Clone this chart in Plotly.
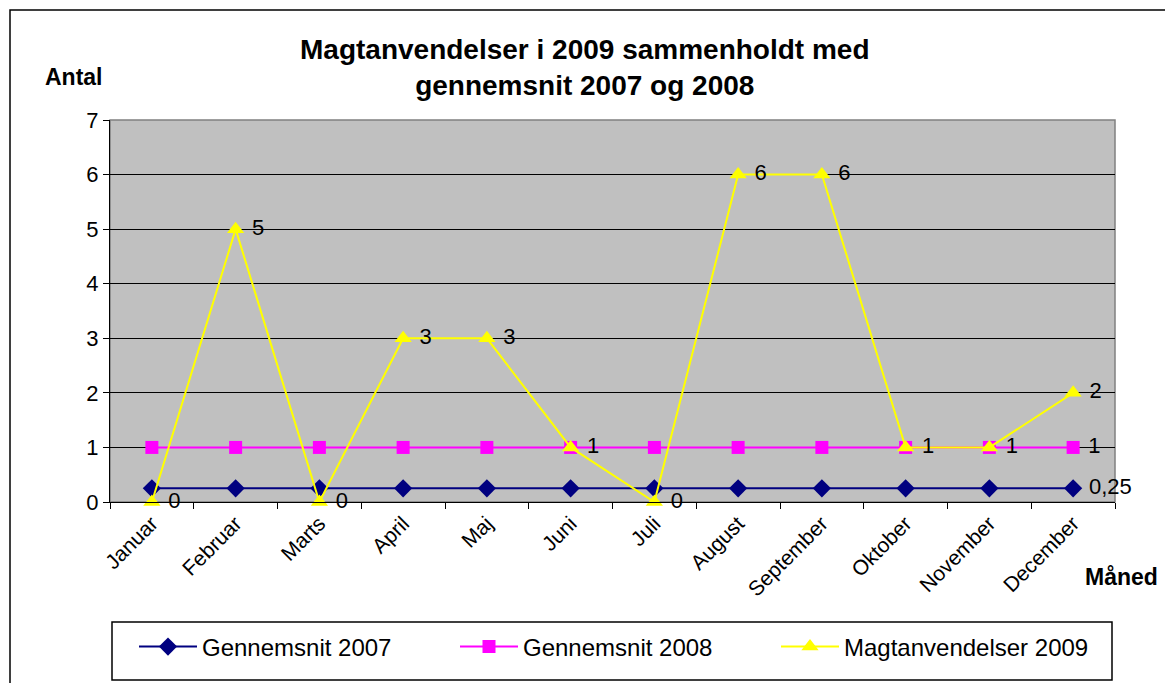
import plotly.graph_objects as go

months = ["Januar", "Februar", "Marts", "April", "Maj", "Juni", "Juli",
          "August", "September", "Oktober", "November", "December"]
avg2007 = [0.25] * 12
avg2008 = [1] * 12
mag2009 = [0, 5, 0, 3, 3, 1, 0, 6, 6, 1, 1, 2]
y_ticks = [0, 1, 2, 3, 4, 5, 6, 7]

FONT = "Liberation Sans, Arial, sans-serif"
NB = "\u00a0"

lab2007 = [""] * 11 + [NB + "0,25"]
lab2008 = [""] * 11 + [NB + "1"]
lab2009 = [NB + str(v) for v in mag2009]

W, H = 1173, 683
OFF = 8  # page body margin
# plot area in page pixels
PL, PT, PR, PB = 110, 120, 1115, 502
L = PL - OFF
T = PT - OFF
R = W - (PR - OFF)
B = H - (PB - OFF)
PW = W - L - R
PH = H - T - B


def px(x):
    return (x - PL) / PW


def py(y):
    return (PB - y) / PH


fig = go.Figure()
fig.add_trace(go.Scatter(
    x=months, y=avg2007, name="Gennemsnit 2007", mode="lines+markers+text",
    line=dict(color="#000080", width=2),
    marker=dict(symbol="diamond", size=14, color="#000080"),
    text=lab2007, textposition="middle right",
    textfont=dict(family=FONT, size=22, color="black"), cliponaxis=False,
    legend="legend"))
fig.add_trace(go.Scatter(
    x=months, y=avg2008, name="Gennemsnit 2008", mode="lines+markers+text",
    line=dict(color="#FF00FF", width=2),
    marker=dict(symbol="square", size=13, color="#FF00FF"),
    text=lab2008, textposition="middle right",
    textfont=dict(family=FONT, size=22, color="black"), cliponaxis=False,
    legend="legend2"))
fig.add_trace(go.Scatter(
    x=months, y=mag2009, name="Magtanvendelser 2009", mode="lines+markers+text",
    line=dict(color="#FFFF00", width=2),
    marker=dict(symbol="triangle-up", size=15, color="#FFFF00"),
    text=lab2009, textposition="middle right",
    textfont=dict(family=FONT, size=22, color="black"), cliponaxis=False,
    legend="legend3"))


def leg(xpix):
    return dict(orientation="h", x=px(xpix), y=py(647), xanchor="left", yanchor="middle",
                bgcolor="rgba(0,0,0,0)", borderwidth=0, itemwidth=58,
                font=dict(family=FONT, size=24, color="black"))


fig.update_layout(
    width=W, height=H,
    margin=dict(l=L, r=R, t=T, b=B, pad=0),
    paper_bgcolor="white", plot_bgcolor="#C0C0C0",
    font=dict(family=FONT, size=20, color="black"),
    showlegend=True,
    legend=leg(134),
    legend2=leg(455),
    legend3=leg(776),
    xaxis=dict(type="category", categoryorder="array", categoryarray=months,
               tickson="boundaries", ticks="outside", ticklen=6, tickcolor="black",
               tickangle=-45, showgrid=False, showline=True, linecolor="black",
               linewidth=1, zeroline=False, range=[-0.5, 11.5],
               tickfont=dict(family=FONT, size=21, color="black")),
    yaxis=dict(range=[0, 7], tickvals=y_ticks, ticks="outside", ticklen=6,
               tickcolor="black", showgrid=True, gridcolor="#000000", gridwidth=1,
               showline=True, linecolor="black", linewidth=1, zeroline=False,
               tickfont=dict(family=FONT, size=22, color="black")),
    annotations=[
        dict(text="<b>Magtanvendelser i 2009 sammenholdt med<br>gennemsnit 2007 og 2008</b>",
             xref="paper", yref="paper", x=px(585), y=py(68), xanchor="center", yanchor="middle",
             showarrow=False, font=dict(family=FONT, size=28, color="black")),
        dict(text="<b>Antal</b>", xref="paper", yref="paper", x=px(74), y=py(77),
             xanchor="center", yanchor="middle", showarrow=False,
             font=dict(family=FONT, size=23, color="black")),
        dict(text="<b>Måned</b>", xref="paper", yref="paper", x=px(1121), y=py(577),
             xanchor="center", yanchor="middle", showarrow=False,
             font=dict(family=FONT, size=23, color="black")),
    ],
    shapes=[
        dict(type="rect", xref="paper", yref="paper", x0=px(10), y0=py(700), x1=px(1190), y1=py(10),
             line=dict(color="black", width=1.5), fillcolor="rgba(0,0,0,0)", layer="below"),
        dict(type="rect", xref="paper", yref="paper", x0=0, y0=0, x1=1, y1=1,
             line=dict(color="#808080", width=1.5), fillcolor="rgba(0,0,0,0)", layer="below"),
        dict(type="rect", xref="paper", yref="paper", x0=px(112), y0=py(680), x1=px(1112), y1=py(622),
             line=dict(color="black", width=1.5), fillcolor="rgba(0,0,0,0)"),
    ],
)

fig.write_html("out.html")
